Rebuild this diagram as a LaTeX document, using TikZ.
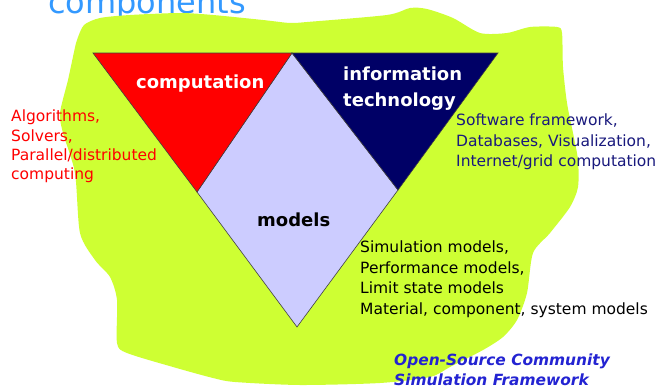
\documentclass[tikz,border=0pt]{standalone}
\usepackage{fontspec}
\setmainfont{DejaVu Sans}
\definecolor{blobgreen}{RGB}{206,255,51}
\definecolor{compred}{RGB}{255,0,0}
\definecolor{itnavy}{RGB}{0,0,102}
\definecolor{lavender}{RGB}{204,204,255}
\definecolor{navytext}{RGB}{25,25,125}
\definecolor{osblue}{RGB}{35,35,210}
\definecolor{titleblue}{RGB}{51,153,255}
\begin{document}
\begin{tikzpicture}[x=1pt,y=-1pt,
  body/.style={font=\fontsize{15.5}{20}\selectfont, inner sep=0pt, anchor=base west},
  lbl/.style={font=\bfseries\fontsize{18}{22}\selectfont, text=white, inner sep=0pt, anchor=base west},
  osf/.style={font=\bfseries\itshape\fontsize{15.4}{20}\selectfont, text=osblue, inner sep=0pt, anchor=base west},
  facet/.style={draw=black!75, line width=0.6pt, line join=miter}]
\useasboundingbox (0,0) rectangle (665,391);
\clip (0,0) rectangle (665,391);
\fill[white] (0,0) rectangle (665,391);
% title (cut off at the top)
\node[font=\fontsize{32}{36}\selectfont, text=titleblue, inner sep=0pt, anchor=base west] (title) at (48,13) {components};
% green blob
\fill[blobgreen] plot[smooth cycle, tension=0.45] coordinates {
 (77,40) (84,25) (100,18) (130,15) (180,13) (213,15) (263,20) (290,23) (307,22)
 (387,15) (410,8) (427,9) (453,18) (480,33) (507,33) (530,27) (557,27) (562,33)
 (563,67) (567,103) (573,133) (578,160) (578,187) (570,207) (550,233) (533,253)
 (527,293) (517,320) (503,337) (483,350) (450,367) (430,377) (380,383) (300,385)
 (235,382) (213,378) (173,367) (127,353) (117,343) (117,300) (110,277) (95,260)
 (80,233) (75,173) (63,133) (60,113) (68,80) (74,52)};
% triangle corners
\coordinate (TL) at (93,53);
\coordinate (TM) at (292,53);
\coordinate (TR) at (498,53);
\coordinate (ML) at (197,192);
\coordinate (MR) at (398,190);
\coordinate (B) at (297,327);
\filldraw[facet, fill=lavender] (TM) -- (MR) -- (B) -- (ML) -- cycle;
\filldraw[facet, fill=compred] (TL) -- (TM) -- (ML) -- cycle;
\filldraw[facet, fill=itnavy] (TM) -- (TR) -- (MR) -- cycle;
% labels in the triangle
\node[lbl] (comp) at (136,88) {computation};
\node[lbl] (info1) at (343,80) {information};
\node[lbl] (info2) at (343,106.5) {technology};
\node[lbl, text=black] (models) at (257,226.5) {models};
% red notes
\node[body, text=compred] (alg1) at (11,121) {Algorithms,};
\node[body, text=compred] (alg2) at (11,141) {Solvers,};
\node[body, text=compred] (alg3) at (11,160) {Parallel/distributed};
\node[body, text=compred] (alg4) at (11,179.5) {computing};
% navy notes
\node[body, text=navytext] (sw1) at (456,125.5) {Software framework,};
\node[body, text=navytext] (sw2) at (456,146) {Databases, Visualization,};
\node[body, text=navytext] (sw3) at (456,166.5) {Internet/grid computation};
% black notes
\node[body] (mod1) at (360,252.5) {Simulation models,};
\node[body] (mod2) at (360,273) {Performance models,};
\node[body] (mod3) at (360,293.5) {Limit state models};
\node[body] (mod4) at (360,314) {Material, component, system models};
% framework name
\node[osf] (os1) at (394,365.5) {Open-Source Community};
\node[osf] (os2) at (394,385.5) {Simulation Framework};
\end{tikzpicture}
\end{document}
